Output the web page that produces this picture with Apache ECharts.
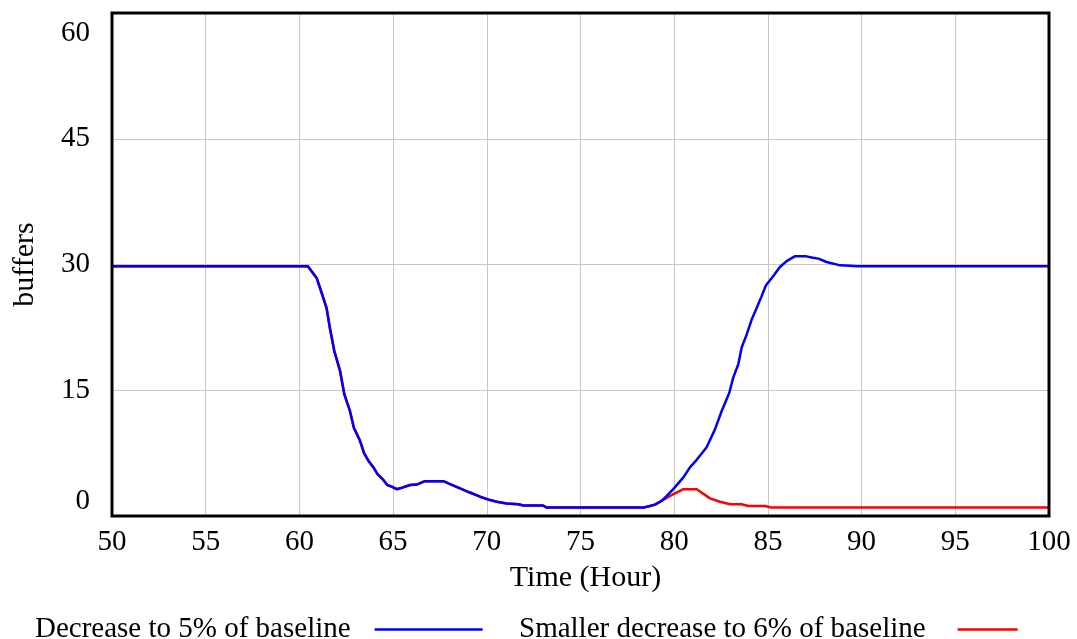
<!DOCTYPE html>
<html>
<head>
<meta charset="utf-8">
<script src="https://cdn.jsdelivr.net/npm/echarts@6/dist/echarts.min.js"></script>
<style>html,body{margin:0;padding:0;background:#fff;}#c{width:1077px;height:639px;}</style>
</head>
<body>
<div id="c"></div>
<script>
const seriesNames = ['Decrease to 5% of baseline', 'Smaller decrease to 6% of baseline'];
const xTicks = [50, 55, 60, 65, 70, 75, 80, 85, 90, 95, 100];
const yTicks = [0, 15, 30, 45, 60];

const blueTime = [50, 60.45, 60.92, 61.19, 61.45, 61.63, 61.86, 62.17, 62.40, 62.70, 62.91, 63.23, 63.45, 63.68, 63.95, 64.17, 64.48, 64.69, 64.92, 65.19, 65.37, 65.90, 66.26, 66.70, 67.68, 68.04, 68.57, 69.1, 69.64, 70.17, 70.53, 71.06, 71.68, 71.95, 73.0, 73.2, 78.35, 78.7, 78.97, 79.33, 79.6, 79.95, 80.49, 80.84, 81.2, 81.73, 82.17, 82.53, 82.94, 83.15, 83.42, 83.6, 83.86, 84.13, 84.4, 84.66, 84.89, 85.28, 85.64, 86.0, 86.43, 87.05, 87.4, 87.7, 88.13, 88.5, 88.85, 89.38, 89.74, 100];
const blueValue = [29.8, 29.8, 28.4, 26.6, 24.8, 22.4, 19.7, 17.3, 14.5, 12.5, 10.5, 9.0, 7.5, 6.6, 5.8, 5.0, 4.3, 3.7, 3.5, 3.2, 3.3, 3.7, 3.75, 4.15, 4.15, 3.8, 3.3, 2.8, 2.3, 1.9, 1.7, 1.5, 1.4, 1.25, 1.25, 1.0, 1.0, 1.2, 1.36, 1.8, 2.4, 3.2, 4.6, 5.8, 6.7, 8.2, 10.3, 12.5, 14.7, 16.5, 18.1, 20.1, 21.6, 23.4, 24.8, 26.2, 27.5, 28.6, 29.7, 30.4, 30.97, 30.97, 30.8, 30.7, 30.3, 30.1, 29.9, 29.85, 29.8, 29.8];

const redTime = [50, 60.45, 60.92, 61.19, 61.45, 61.63, 61.86, 62.17, 62.40, 62.70, 62.91, 63.23, 63.45, 63.68, 63.95, 64.17, 64.48, 64.69, 64.92, 65.19, 65.37, 65.90, 66.26, 66.70, 67.68, 68.04, 68.57, 69.1, 69.64, 70.17, 70.53, 71.06, 71.68, 71.95, 73.0, 73.2, 78.35, 78.7, 78.97, 79.33, 79.78, 80.49, 81.2, 81.91, 82.44, 82.98, 83.6, 83.95, 84.84, 85.2, 100];
const redValue = [29.8, 29.8, 28.4, 26.6, 24.8, 22.4, 19.7, 17.3, 14.5, 12.5, 10.5, 9.0, 7.5, 6.6, 5.8, 5.0, 4.3, 3.7, 3.5, 3.2, 3.3, 3.7, 3.75, 4.15, 4.15, 3.8, 3.3, 2.8, 2.3, 1.9, 1.7, 1.5, 1.4, 1.25, 1.25, 1.0, 1.0, 1.2, 1.36, 1.8, 2.4, 3.2, 3.2, 2.1, 1.7, 1.4, 1.4, 1.2, 1.2, 1.0, 1.0];

const FONT = 'Liberation Serif';
const pairs = (t, v) => t.map((x, i) => [x, v[i]]);

const chart = echarts.init(document.getElementById('c'), null, {renderer: 'canvas'});
chart.setOption({
  animation: false,
  backgroundColor: '#fff',
  textStyle: {fontFamily: FONT},
  grid: {left: 112, right: 28, top: 13, bottom: 123, show: true, borderColor: '#000', borderWidth: 3,
         backgroundColor: 'transparent', z: 10, containLabel: false, outerBoundsMode: 'none'},
  legend: [
    {data: [seriesNames[0]], left: 35, top: 615, align: 'right', icon: 'rect', itemWidth: 108, itemHeight: 2.5, padding: 0,
     itemStyle: {color: '#0000ff'},
     textStyle: {fontFamily: FONT, fontSize: 29, color: '#000', padding: [0, 19, 0, 0]}},
    {data: [seriesNames[1]], left: 519, top: 615, align: 'right', icon: 'rect', itemWidth: 60, itemHeight: 2.5, padding: 0,
     itemStyle: {color: '#ff0000'},
     textStyle: {fontFamily: FONT, fontSize: 29, color: '#000', padding: [0, 27, 0, 0]}}
  ],
  xAxis: {
    type: 'value', min: xTicks[0], max: xTicks[xTicks.length - 1], interval: 5,
    name: 'Time (Hour)', nameLocation: 'middle', nameGap: 47,
    nameTextStyle: {fontFamily: FONT, fontSize: 30, color: '#000', padding: [0, 0, 0, 10]},
    axisLine: {show: false}, axisTick: {show: false},
    axisLabel: {fontFamily: FONT, fontSize: 29, color: '#000', margin: 12},
    splitLine: {show: true, lineStyle: {color: '#c8c8c8', width: 1}}
  },
  yAxis: {
    type: 'value', min: yTicks[0], max: yTicks[yTicks.length - 1], interval: 15,
    name: 'buffers', nameLocation: 'middle', nameGap: 72,
    nameTextStyle: {fontFamily: FONT, fontSize: 30, color: '#000'},
    axisLine: {show: false}, axisTick: {show: false},
    axisLabel: {fontFamily: FONT, fontSize: 29, color: '#000', margin: 22,
      verticalAlignMinLabel: 'bottom', verticalAlignMaxLabel: 'top', padding: [6, 0, 0, 0]},
    splitLine: {show: true, lineStyle: {color: '#c8c8c8', width: 1}}
  },
  series: [
    {name: seriesNames[1], type: 'line', data: pairs(redTime, redValue), symbol: 'none', z: 2,
     lineStyle: {color: '#ff0000', width: 2.5}, itemStyle: {color: '#ff0000'}},
    {name: seriesNames[0], type: 'line', data: pairs(blueTime, blueValue), symbol: 'none', z: 3,
     lineStyle: {color: '#0000ff', width: 2.5}, itemStyle: {color: '#0000ff'}}
  ]
});
</script>
</body>
</html>
